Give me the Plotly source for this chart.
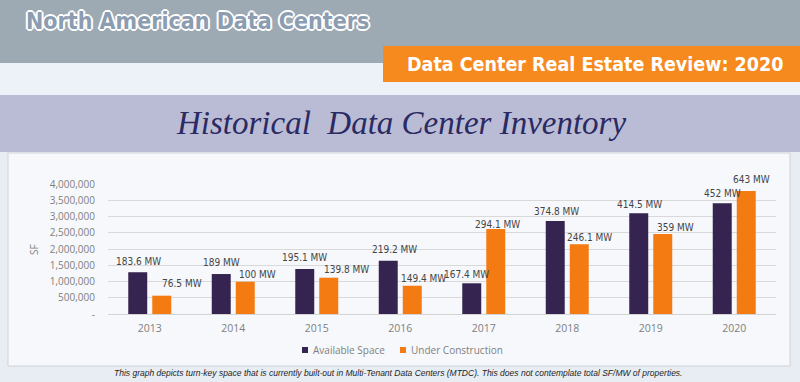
import plotly.graph_objects as go

# ---------------- data ----------------
years = ["2013", "2014", "2015", "2016", "2017", "2018", "2019", "2020"]
available_sf = [1285000, 1230000, 1385000, 1640000, 945000, 2860000, 3100000, 3410000]
construction_sf = [563000, 994000, 1117000, 870000, 2615000, 2145000, 2460000, 3785000]
available_mw = ["183.6", "189", "195.1", "219.2", "167.4", "374.8", "414.5", "452"]
construction_mw = ["76.5", "100", "139.8", "149.4", "294.1", "246.1", "359", "643"]
y_tick_values = [0, 500000, 1000000, 1500000, 2000000, 2500000, 3000000, 3500000, 4000000]
y_tick_labels = ["-", "500,000", "1,000,000", "1,500,000", "2,000,000",
                 "2,500,000", "3,000,000", "3,500,000", "4,000,000"]
series_names = ["Available Space", "Under Construction"]

# ---------------- styles ----------------
PURPLE = "#34244f"
ORANGE = "#f47b12"
COND = "DejaVu Sans Condensed, Liberation Sans Narrow, Roboto, sans-serif"
SANS = "Open Sans, Noto Sans, sans-serif"
GRAY_TXT = "#808080"

# label nudges in pixels (manual Excel label positions)
avail_dx = [-11, -12, -12, -6, -17, -11, -11, -12]
avail_dy = [11, 12, 11, 11, 9, 10, 9, 10]
uc_dx = [32, 24, 30, 23, 14, 22, 25, 17]
uc_dy = [12, 7, 8, 7, 5, 7, 7, 11]

W, H = 800, 382
ML, MR, MT, MB = 108, 24, 184, 68
PW, PH = W - ML - MR, H - MT - MB


def px(x):
    return (x - ML) / PW


def py(y):
    return (H - MB - y) / PH


fig = go.Figure()
fig.add_trace(go.Bar(x=years, y=available_sf, name=series_names[0],
                     marker=dict(color=PURPLE, line=dict(width=0))))
fig.add_trace(go.Bar(x=years, y=construction_sf, name=series_names[1],
                     marker=dict(color=ORANGE, line=dict(width=0))))

annotations = []
for i, yr in enumerate(years):
    annotations.append(dict(x=i, y=available_sf[i], xref="x", yref="y",
                            text=available_mw[i] + " MW", showarrow=False,
                            xshift=avail_dx[i], yshift=avail_dy[i], yanchor="middle",
                            font=dict(family=COND, size=10, color="#454545")))
    annotations.append(dict(x=i, y=construction_sf[i], xref="x", yref="y",
                            text=construction_mw[i] + " MW", showarrow=False,
                            xshift=uc_dx[i], yshift=uc_dy[i], yanchor="middle",
                            font=dict(family=COND, size=10, color="#454545")))

# header / decorative texts
annotations += [
    dict(x=px(24), y=py(21), xref="paper", yref="paper", xanchor="left", yanchor="middle",
         text="North American Data Centers", showarrow=False,
         font=dict(family=COND, size=23, color="#8c9db1", weight="bold",
                   shadow="1px 1px 0 #fff, -1px -1px 0 #fff, 1px -1px 0 #fff, -1px 1px 0 #fff, "
                          "2px 0 0 #fff, -2px 0 0 #fff, 0 2px 0 #fff, 0 -2px 0 #fff")),
    dict(x=px(595), y=py(64), xref="paper", yref="paper", xanchor="center", yanchor="middle",
         text="Data Center Real Estate Review: 2020", showarrow=False,
         font=dict(family=COND, size=19.5, color="#ffffff", weight="bold")),
    dict(x=px(401), y=py(123), xref="paper", yref="paper", xanchor="center", yanchor="middle",
         text="Historical  Data Center Inventory", showarrow=False,
         font=dict(family="Liberation Serif, Times New Roman, serif", size=33,
                   color="#2b2a62", style="italic")),
    dict(x=px(34), y=py(250), xref="paper", yref="paper", xanchor="center", yanchor="middle",
         text="SF", showarrow=False, textangle=-90,
         font=dict(family=SANS, size=10, color=GRAY_TXT)),
    dict(x=px(398), y=py(373), xref="paper", yref="paper", xanchor="center", yanchor="middle",
         text="This graph depicts turn-key space that is currently built-out in Multi-Tenant Data "
              "Centers (MTDC). This does not contemplate total SF/MW of properties.",
         showarrow=False,
         font=dict(family="Liberation Sans, Arial, sans-serif", size=8.5, color="#1e1e1e",
                   style="italic")),
]

# legend (drawn as small squares + labels, like the Excel legend)
legend_colors = [PURPLE, ORANGE]
legend_marker_x = [302, 400]
legend_y = 350


def rect(x0, y0, x1, y1, fill, line=None):
    return dict(type="rect", xref="paper", yref="paper", layer="below",
                x0=px(x0), x1=px(x1), y0=py(y1), y1=py(y0), fillcolor=fill,
                line=dict(width=1 if line else 0, color=line or fill))


shapes = [
    rect(0, 0, 800, 63, "#9eaab3"),
    rect(0, 63, 800, 95, "#edf2f8"),
    rect(0, 95, 800, 152, "#babcd6"),
    rect(8, 153, 790, 366, "#f6f8fb", "#cfd4da"),
    rect(383, 46, 800, 82, "#f68a1f"),
]
for name, col, mx in zip(series_names, legend_colors, legend_marker_x):
    s = rect(mx, legend_y - 3, mx + 6, legend_y + 3, col)
    s["layer"] = "above"
    shapes.append(s)
    annotations.append(dict(x=px(mx + 9), y=py(legend_y), xref="paper", yref="paper",
                            xanchor="left", yanchor="middle", text=name, showarrow=False,
                            font=dict(family=SANS, size=10, color=GRAY_TXT)))

fig.update_layout(
    width=W, height=H, autosize=False,
    margin=dict(l=ML, r=MR, t=MT, b=MB, pad=0, autoexpand=False),
    paper_bgcolor="#e8edf3", plot_bgcolor="rgba(0,0,0,0)",
    barmode="group", bargap=0.425, bargroupgap=0.21,
    showlegend=False,
    xaxis=dict(type="category", range=[-0.5, len(years) - 0.5], showgrid=False,
               showline=True, linecolor="#d4d4d4",
               linewidth=1, ticks="", tickfont=dict(family=SANS, size=10.5, color=GRAY_TXT),
               ticklabelstandoff=4),
    yaxis=dict(range=[0, 4000000], tickvals=y_tick_values, ticktext=y_tick_labels,
               showgrid=True, gridcolor="#d9d9d9", gridwidth=1, zeroline=False,
               showline=False, ticks="", ticklabelstandoff=12,
               tickfont=dict(family=SANS, size=10, color=GRAY_TXT)),
    annotations=annotations,
    shapes=shapes,
)

fig.write_html("out.html", config={"displayModeBar": False},
               post_script="document.body.style.margin='0';document.body.style.overflow='hidden';")
